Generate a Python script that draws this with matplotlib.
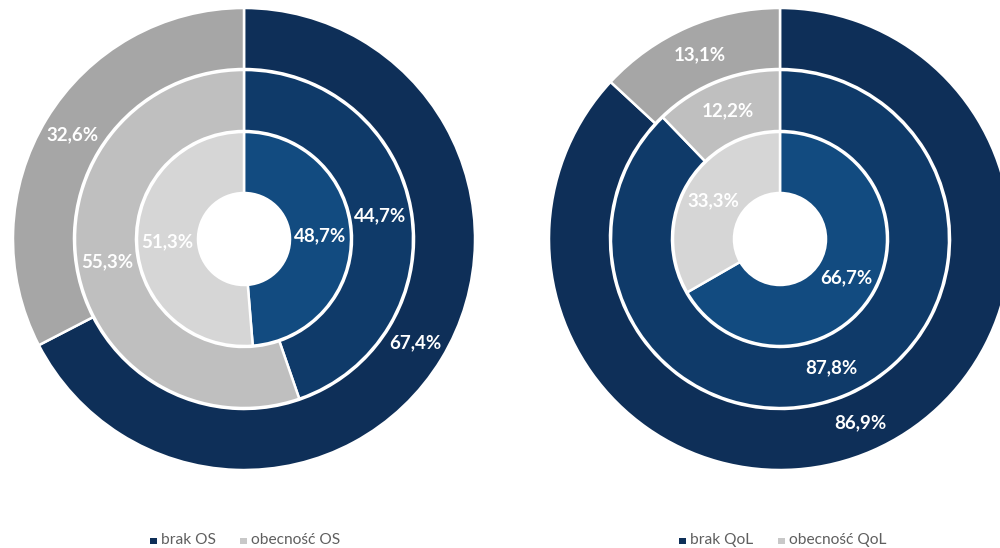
import matplotlib
matplotlib.use("Agg")
import matplotlib.pyplot as plt
from matplotlib.patches import Rectangle

# Ring values, outer -> inner: [brak, obecność] in percent
os_outer = [67.4, 32.6]
os_middle = [44.7, 55.3]
os_inner = [48.7, 51.3]

qol_outer = [86.9, 13.1]
qol_middle = [87.8, 12.2]
qol_inner = [66.7, 33.3]

legend_os = ["brak OS", "obecność OS"]
legend_qol = ["brak QoL", "obecność QoL"]

# Ring colours, outer -> inner
blues = ["#0E2F58", "#0F3A69", "#124B80"]
greys = ["#A6A6A6", "#BFBFBF", "#D6D6D6"]

FONT = ["Lato", "DejaVu Sans"]
W, H = 1000, 548

fig = plt.figure(figsize=(W / 100, H / 100), dpi=100)
ax = fig.add_axes([0, 0, 1, 1])

radii = [231, 169, 107]
ring_w = 61


def fmt(p):
    return f"{p:.1f}%".replace(".", ",")


def donut(cx, cy, rings):
    for k, vals in enumerate(rings):
        r = radii[k]
        ax.pie(
            vals, radius=r, center=(cx, cy), startangle=90, counterclock=False,
            colors=[blues[k], greys[k]], autopct=fmt,
            pctdistance=(r - ring_w / 2) / r,
            wedgeprops=dict(width=ring_w, edgecolor="white", linewidth=1.8),
            textprops=dict(color="white", fontsize=13.5, fontweight="bold", family=FONT),
            frame=True,
        )


donut(244, H - 239, [os_outer, os_middle, os_inner])
donut(780, H - 239, [qol_outer, qol_middle, qol_inner])
ax.set_xlim(0, W)
ax.set_ylim(0, H)
ax.set_aspect("equal")
ax.axis("off")


def legend(items, xs):
    y = H - 540
    cols = [blues[0], "#C8C8C8"]
    for (x, label), c in zip(zip(xs, items), cols):
        ax.add_patch(Rectangle((x, y - 4), 6.5, 6.5, facecolor=c, edgecolor="none"))
        ax.text(x + 11, y, label, fontsize=11.2, color="#5F5F5F", va="center",
                ha="left", family=FONT)


legend(legend_os, [150, 240])
legend(legend_qol, [679, 778])

fig.savefig("out.png", dpi=100)
